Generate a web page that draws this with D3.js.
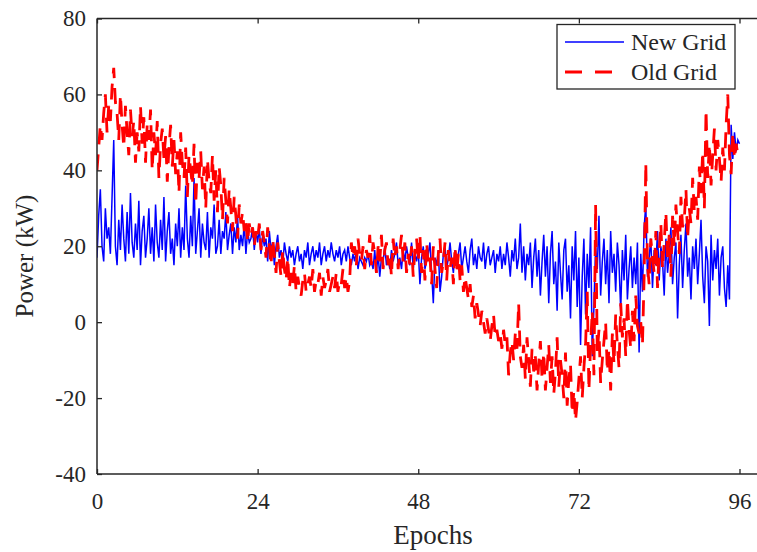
<!DOCTYPE html>
<html>
<head>
<meta charset="utf-8">
<script src="https://cdn.jsdelivr.net/npm/d3@7"></script>
<style>
  html, body { margin: 0; padding: 0; background: #fff; }
  svg { display: block; }
  text { font-family: "Liberation Serif", "Times New Roman", serif; fill: #262626; }
</style>
</head>
<body>
<svg id="chart" width="757" height="552"></svg>
<script>
// ---- data ----
const seriesNames = ["New Grid", "Old Grid"];
const xStep = 0.25;              // epochs between consecutive readings
const xTicks = [0, 24, 48, 72, 96];
const yTicks = [-40, -20, 0, 20, 40, 60, 80];

const newGrid = [
  17,28,35,20, 16,30,22,25, 18,33,48,20, 15,27,19,31, 22,16,29,18, 34,21,17,26,
  19,32,15,24, 28,17,22,30, 18,25,16,31, 21,17,27,19, 33,16,24,29, 18,22,15,26,
  20,30,17,25, 19,36,22,17, 28,20,38,18, 24,30,17,26, 21,19,29,17, 25,22,31,18,
  20,27,18,24, 22,29,19,23, 26,18,25,21, 28,19,23,20, 26,18,24,21, 22,25,19,24,
  21,25,18,23, 20,22,16,24, 19,21,15,20, 23,17,19,15, 21,18,16,20, 17,19,15,18,
  20,16,18,14, 19,17,21,15, 18,20,16,19, 17,21,15,18, 20,16,19,17, 21,18,16,19,
  17,20,15,18, 19,16,20,17, 15,18,16,19, 14,17,16,15, 17,16,18,15, 16,14,19,13,
  18,12,17,16, 20,15,17,14, 19,16,18,21, 15,17,14,19, 16,20,17,15, 21,14,18,16,
  19,10,17,20, 14,16,18,21, 13,5,17,15, 19,8,12,18, 20,14,17,21, 16,13,19,15,
  18,21,14,17, 20,16,13,19, 22,15,18,14, 20,17,16,21, 14,18,20,15, 17,19,13,18,
  16,20,14,18, 15,21,17,12, 19,16,22,14, 17,26,13,20, 11,18,15,21, 9,17,22,12,
  19,7,16,23, 12,20,5,18, 24,10,16,3, 21,13,6,19, 22,8,15,1, 20,11,24,4,
  17,-6,12,22, 2,18,9,25, -9,4,20,14, 28,7,16,22, 10,19,5,24, 13,18,8,21,
  15,3,19,11, 23,6,14,20, 9,17,10,21, -8,18,8,25, 31,12,17,22, 9,19,15,24,
  11,20,16,7, 22,13,18,25, 10,17,21,1, 15,23,9,19, 26,12,17,6, 20,14,22,10,
  18,27,12,5, 20,16,-1,23, 11,19,14,22, 7,17,20,9, 4,15,6,52, 43,50,45,48,
  47
];

const oldGrid = [
  40,46,52,48, 55,60,50,57, 53,62,67,58, 55,48,60,52, 46,57,50,44, 56,49,53,42,
  50,45,57,47, 54,42,52,48, 56,40,50,44, 53,38,47,51, 43,49,37,46, 52,41,48,39,
  45,34,50,42, 38,46,33,44, 40,36,47,31, 42,38,45,35, 41,30,43,37, 34,44,32,40,
  29,41,36,27, 38,32,26,35, 30,24,33,28, 22,31,26,29, 24,27,21,26, 23,25,20,24,
  22,26,19,24, 21,17,25,20, 15,22,18,13, 21,16,12,19, 14,11,17,9, 13,10,15,8,
  12,9,7,11, 13,8,10,12, 9,14,8,11, 10,13,7,12, 9,11,14,8, 10,12,9,13,
  8,11,10,14, 9,12,8,11, 21,17,20,15, 22,18,16,20, 14,19,17,23, 15,21,18,13,
  20,16,23,14, 19,21,15,18, 12,22,17,20, 14,19,23,16, 21,13,18,15, 20,12,19,22,
  16,23,13,19, 11,21,15,17, 10,20,14,9, 18,22,13,16, 21,11,19,14, 17,10,20,13,
  18,11,15,8, 12,9,6,10, 4,7,1,5, 2,-1,3,0, -3,1,-2,-5, -1,2,-4,-2,
  -5,-3,-7,-2, -6,-4,-14,-8, -5,-10,-3,-7, 5,-9,-12,-6, -15,-4,-10,-17, -7,-13,-9,-18,
  -11,-5,-15,-8, -18,-12,-6,-16, -9,-19,-13,-4, -17,-10,-14,-20, -8,-22,-15,-11, -24,-18,-26,-21,
  -15,-9,-20,-12, -6,8,-18,-6, 3,-14,31,-8, -2,-16,-10,-5, 0,-13,-7,-18, -3,-11,2,-6,
  -12,5,-4,1, -9,6,-2,-7, 3,-5,7,-1, -3,0,-6,12, 42,15,10,22, 17,13,24,9,
  19,26,14,21, 29,17,23,12, 28,20,31,24, 18,33,25,27, 35,22,30,26, 38,29,33,27,
  41,34,45,30, 56,38,47,36, 44,51,40,48, 43,37,46,40, 52,60,44,39, 50,43,47,44,
  45
];

// ---- layout ----
const svg = d3.select("#chart");
const mLeft = 97, mTop = 18.5, mBottom = 474, rightEdge = 760;
const x = d3.scaleLinear().domain([0, 96]).range([mLeft, 739.5]);
const y = d3.scaleLinear().domain([-40, 80]).range([mBottom, mTop]);
const axisColor = "#262626";

const clipId = "plotclip";
svg.append("defs").append("clipPath").attr("id", clipId)
  .append("rect").attr("x", mLeft).attr("y", mTop).attr("width", rightEdge - mLeft).attr("height", mBottom - mTop);

const line = d3.line().x((d, i) => x(i * xStep)).y(d => y(d));

const plot = svg.append("g").attr("clip-path", `url(#${clipId})`);
plot.append("path").datum(newGrid)
  .attr("d", line).attr("fill", "none").attr("stroke", "#0000ff").attr("stroke-width", 1.5);
plot.append("path").datum(oldGrid)
  .attr("d", line).attr("fill", "none").attr("stroke", "#ff0000").attr("stroke-width", 2.8)
  .attr("stroke-dasharray", "16,10");

// ---- axes ----
const tickLen = 5;
const fmt = d => String(d);
const bAxis = svg.append("g").attr("transform", `translate(0,${mBottom})`)
  .call(d3.axisBottom(x).tickValues(xTicks).tickSize(-tickLen).tickPadding(19).tickFormat(fmt));
const tAxis = svg.append("g").attr("transform", `translate(0,${mTop})`)
  .call(d3.axisTop(x).tickValues(xTicks).tickSize(-tickLen).tickFormat(""));
const lAxis = svg.append("g").attr("transform", `translate(${mLeft},0)`)
  .call(d3.axisLeft(y).tickValues(yTicks).tickSize(-tickLen).tickPadding(11).tickFormat(fmt));

[bAxis, tAxis, lAxis].forEach(g => {
  g.attr("font-family", null);
  g.select(".domain").remove();
  g.selectAll(".tick line").attr("stroke", axisColor).attr("stroke-width", 1.3);
  g.selectAll(".tick text").attr("font-size", 23).attr("fill", axisColor)
    .style("font-family", '"Liberation Serif", "Times New Roman", serif');
});

// frame lines
svg.append("line").attr("x1", mLeft).attr("x2", rightEdge).attr("y1", mBottom).attr("y2", mBottom)
  .attr("stroke", axisColor).attr("stroke-width", 1.5);
svg.append("line").attr("x1", mLeft).attr("x2", rightEdge).attr("y1", mTop).attr("y2", mTop)
  .attr("stroke", axisColor).attr("stroke-width", 1.5);
svg.append("line").attr("x1", mLeft).attr("x2", mLeft).attr("y1", mTop).attr("y2", mBottom)
  .attr("stroke", axisColor).attr("stroke-width", 1.5);

// axis labels
svg.append("text").attr("x", 433).attr("y", 544)
  .attr("text-anchor", "middle").attr("font-size", 27).text("Epochs");
svg.append("text").attr("transform", `translate(33,256) rotate(-90)`)
  .attr("text-anchor", "middle").attr("font-size", 25).text("Power (kW)");

// ---- legend ----
const lg = svg.append("g");
lg.append("rect").attr("x", 557).attr("y", 24.5).attr("width", 178).attr("height", 64.5)
  .attr("fill", "#fff").attr("stroke", axisColor).attr("stroke-width", 1.3);
const legendRows = [
  { name: seriesNames[0], color: "#0000ff", w: 1.5, dash: null },
  { name: seriesNames[1], color: "#ff0000", w: 2.8, dash: "17,13" }
];
legendRows.forEach((r, i) => {
  const cy = 42 + i * 30;
  lg.append("line").attr("x1", 565).attr("x2", 624).attr("y1", cy).attr("y2", cy)
    .attr("stroke", r.color).attr("stroke-width", r.w).attr("stroke-dasharray", r.dash);
  lg.append("text").attr("x", 631).attr("y", cy).attr("dy", "0.35em")
    .attr("font-size", 24).text(r.name);
});
</script>
</body>
</html>
